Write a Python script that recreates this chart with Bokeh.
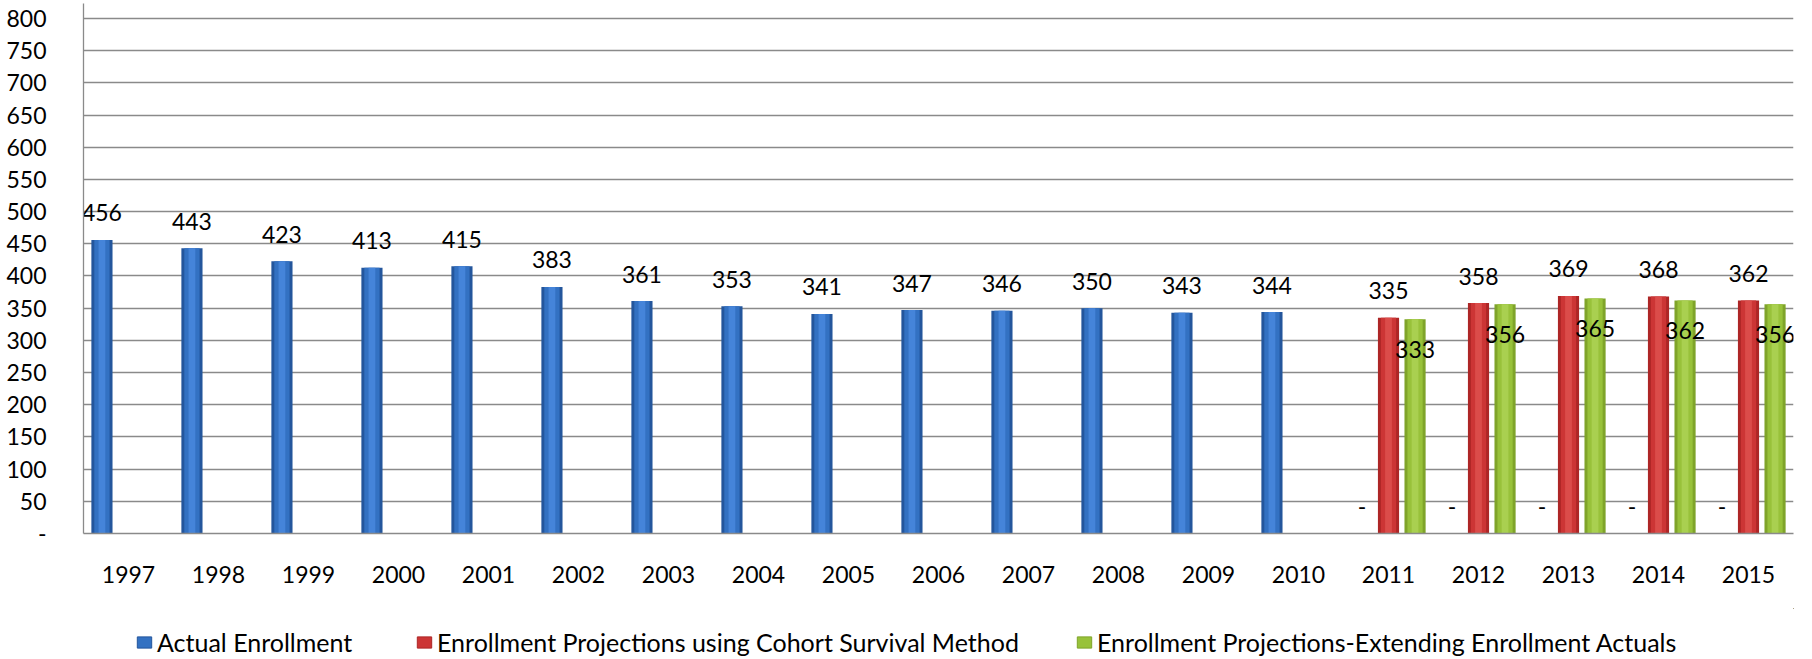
import numpy as np
from bokeh.plotting import figure
from bokeh.layouts import column
from bokeh.models import ColumnDataSource, FactorRange, Range1d, FixedTicker, Legend, LegendItem
from bokeh.transform import dodge
from bokeh.core.properties import value
from bokeh.embed import file_html
from bokeh.resources import INLINE

# ---------------- data ----------------
years = ["1997", "1998", "1999", "2000", "2001", "2002", "2003", "2004", "2005", "2006",
         "2007", "2008", "2009", "2010", "2011", "2012", "2013", "2014", "2015"]
actual = [456, 443, 423, 413, 415, 383, 361, 353, 341, 347, 346, 350, 343, 344, 0, 0, 0, 0, 0]
cohort = [None] * 14 + [335, 358, 369, 368, 362]
extending = [None] * 14 + [333, 356, 365, 362, 356]
series_names = ["Actual Enrollment",
                "Enrollment Projections using Cohort Survival Method",
                "Enrollment Projections-Extending Enrollment Actuals"]
y_ticks = [0, 50, 100, 150, 200, 250, 300, 350, 400, 450, 500, 550, 600, 650, 700, 750, 800]

FONT = "Lato"

def nz(vals):
    return [np.nan if v is None else v for v in vals]

src = ColumnDataSource(dict(year=years, actual=actual, cohort=nz(cohort), extending=nz(extending)))

p = figure(width=1800, height=608, x_range=FactorRange(factors=years, range_padding=0),
           y_range=Range1d(0, 823.3), output_backend="svg", toolbar_location=None,
           min_border_left=83, min_border_right=7, min_border_top=3, min_border_bottom=75)
p.outline_line_color = None
p.background_fill_color = "white"

# grid
p.xgrid.grid_line_color = None
p.ygrid.grid_line_color = "#8a8a8a"
p.ygrid.grid_line_width = 1.3
p.yaxis.ticker = FixedTicker(ticks=y_ticks)
p.yaxis.major_label_overrides = {0: "-"}

for ax in (p.xaxis[0], p.yaxis[0]):
    ax.axis_line_color = "#8a8a8a"
    ax.axis_line_width = 1.3
    ax.major_tick_line_color = None
    ax.minor_tick_line_color = None
    ax.major_label_text_font = FONT
    ax.major_label_text_font_size = "23px"
    ax.major_label_text_color = "black"
p.yaxis.major_label_standoff = 31
p.xaxis.major_label_standoff = 26

BW = 0.235
OFF = 0.295
styles = {
    "actual": (-OFF, ["#24569c", "#3371c2", "#4a8ade"]),
    "cohort": (0.0, ["#ad2626", "#cc3535", "#de5250"]),
    "extending": (OFF, ["#7fa42a", "#98c23a", "#aed356"]),
}
for col, (off, cols) in styles.items():
    p.vbar(x=dodge("year", off, range=p.x_range), top=col, width=BW, source=src,
           fill_color=cols[0], line_color=None)
    p.vbar(x=dodge("year", off, range=p.x_range), top=col, width=BW * 0.72, source=src,
           fill_color=cols[1], line_color=None)
    p.vbar(x=dodge("year", off, range=p.x_range), top=col, width=BW * 0.32, source=src,
           fill_color=cols[2], line_color=None, fill_alpha=0.8)

# data labels
def label_src(vals):
    xs, ys, ts = [], [], []
    for y, v in zip(years, vals):
        if v is None:
            continue
        xs.append(y)
        ys.append(v)
        ts.append(str(v) if v else "-")
    return ColumnDataSource(dict(year=xs, val=ys, txt=ts))

for vals, off, yoff in ((actual, -OFF, -27), (cohort, 0.0, -27), (extending, OFF, 30)):
    p.text(x=dodge("year", off, range=p.x_range), y="val", text="txt",
           source=label_src(vals), y_offset=yoff, text_align="center", text_baseline="middle",
           text_font=value(FONT), text_font_size="23px", text_color="black")

# ---------------- legend strip ----------------
lg = figure(width=1800, height=51, x_range=Range1d(0, 1), y_range=Range1d(0, 1),
            x_axis_type=None, y_axis_type=None, output_backend="svg", toolbar_location=None,
            min_border_left=0, min_border_right=0, min_border_top=0, min_border_bottom=0)
lg.outline_line_color = None
lg.grid.grid_line_color = None
legend_x = [52, 332, 992]
for (col, (off, cols)), name, lx in zip(styles.items(), series_names, legend_x):
    # off-screen dummy renderer, only used for the legend swatch
    r = lg.vbar(x=[5], top=[5], bottom=[4], width=0.1, fill_color=cols[1], line_color=cols[0])
    leg = Legend(items=[LegendItem(label=name, renderers=[r])], location=(lx, 2),
                 orientation="horizontal", glyph_width=18, glyph_height=14, label_standoff=4,
                 label_height=20, padding=0, margin=0, border_line_color=None,
                 background_fill_alpha=0, label_text_font=FONT, label_text_font_size="25px",
                 label_text_color="black")
    lg.add_layout(leg, "center")

open("out.html", "w").write(file_html(column(p, lg), INLINE))
